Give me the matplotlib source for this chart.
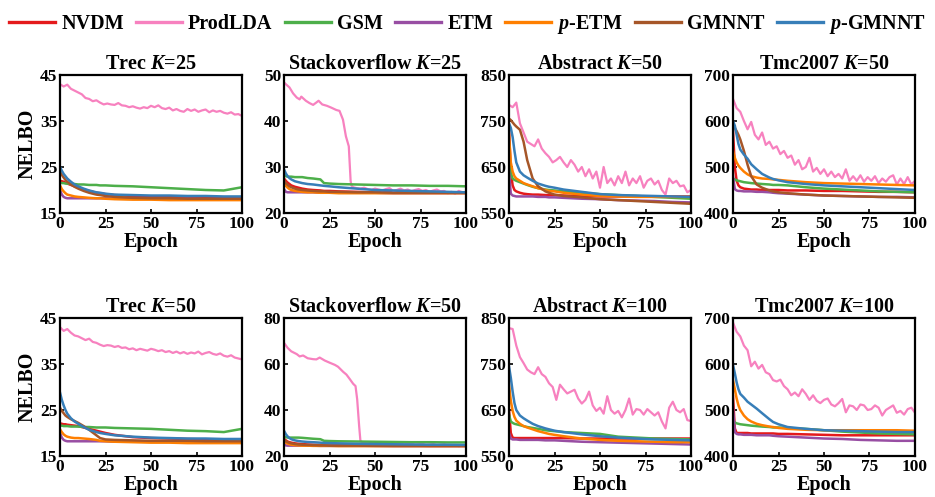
import matplotlib
matplotlib.use('Agg')
import matplotlib.pyplot as plt
from matplotlib.lines import Line2D
import numpy as np

# ---------------- data ----------------
MODELS = ['NVDM', 'ProdLDA', 'GSM', 'ETM', 'p-ETM', 'GMNNT', 'p-GMNNT']
LABELS = ['NVDM', 'ProdLDA', 'GSM', 'ETM', '$p$-ETM', 'GMNNT', '$p$-GMNNT']
COLORS = ['#e41a1c', '#f781bf', '#4daf4a', '#984ea3', '#ff7f00', '#a65628', '#377eb8']

TITLES = ['Trec', 'Stackoverflow', 'Abstract', 'Tmc2007',
          'Trec', 'Stackoverflow', 'Abstract', 'Tmc2007']
KS = [25, 25, 50, 50, 50, 50, 100, 100]
YTICKS = [[15, 25, 35, 45], [20, 30, 40, 50], [550, 650, 750, 850], [400, 500, 600, 700],
          [15, 25, 35, 45], [20, 40, 60, 80], [550, 650, 750, 850], [400, 500, 600, 700]]

# epochs at which the smooth curves are read
EPOCHS = [0, 1, 2, 3, 4, 6, 8, 10, 13, 16, 20, 22, 25, 30, 40, 50, 60, 70, 80, 90, 100]
PINK_EPOCHS = list(range(0, 101, 2))

TREC25 = {
    'NVDM':    [22.0, 21.9, 21.8, 21.6, 21.4, 21.1, 20.8, 20.5, 20.1, 19.8, 19.4, 19.3, 19.1, 18.9, 18.7, 18.6, 18.5, 18.4, 18.3, 18.3, 18.3],
    'GSM':     [21.6, 21.5, 21.5, 21.4, 21.4, 21.3, 21.3, 21.2, 21.2, 21.1, 21.1, 21.0, 21.0, 20.9, 20.8, 20.6, 20.4, 20.2, 20.0, 19.9, 20.6],
    'ETM':     [20.0, 19.0, 18.5, 18.3, 18.2, 18.2, 18.2, 18.2, 18.2, 18.2, 18.2, 18.2, 18.2, 18.1, 18.1, 18.1, 18.1, 18.1, 18.0, 18.0, 18.0],
    'p-ETM':   [21.0, 20.2, 19.7, 19.3, 19.0, 18.8, 18.6, 18.5, 18.4, 18.3, 18.2, 18.2, 18.1, 18.0, 17.9, 17.9, 17.8, 17.8, 17.8, 17.8, 17.8],
    'GMNNT':   [24.0, 23.3, 22.7, 22.2, 21.8, 21.2, 20.7, 20.3, 19.8, 19.4, 19.0, 18.9, 18.7, 18.5, 18.3, 18.2, 18.2, 18.1, 18.1, 18.1, 18.1],
    'p-GMNNT': [25.0, 24.2, 23.5, 23.0, 22.5, 21.8, 21.2, 20.8, 20.3, 19.9, 19.5, 19.4, 19.2, 19.0, 18.9, 18.8, 18.8, 18.7, 18.7, 18.6, 18.6],
}
SO25 = {
    'NVDM':    [27.5, 27.0, 26.6, 26.3, 26.0, 25.7, 25.5, 25.3, 25.1, 25.0, 24.9, 24.8, 24.8, 24.7, 24.6, 24.5, 24.5, 24.5, 24.4, 24.4, 24.4],
    'GSM':     [28.3, 28.0, 27.9, 27.9, 27.9, 27.8, 27.8, 27.8, 27.6, 27.5, 27.3, 26.5, 26.4, 26.3, 26.2, 26.1, 26.0, 26.0, 25.9, 25.9, 25.8],
    'ETM':     [25.2, 24.6, 24.5, 24.5, 24.5, 24.5, 24.5, 24.5, 24.5, 24.5, 24.4, 24.4, 24.4, 24.4, 24.4, 24.4, 24.3, 24.3, 24.3, 24.3, 24.3],
    'p-ETM':   [26.5, 25.9, 25.5, 25.2, 25.0, 24.8, 24.7, 24.6, 24.5, 24.5, 24.4, 24.4, 24.4, 24.3, 24.3, 24.3, 24.3, 24.3, 24.3, 24.3, 24.3],
    'GMNNT':   [27.0, 26.5, 26.1, 25.8, 25.6, 25.3, 25.1, 25.0, 24.9, 24.8, 24.7, 24.7, 24.6, 24.6, 24.5, 24.5, 24.4, 24.4, 24.4, 24.4, 24.4],
    'p-GMNNT': [29.5, 28.6, 28.0, 27.6, 27.3, 26.9, 26.7, 26.5, 26.3, 26.2, 26.0, 25.9, 25.8, 25.6, 25.3, 25.0, 24.9, 24.8, 24.7, 24.6, 24.5],
}
ABS50 = {
    'NVDM':    [730, 640, 610, 600, 597, 594, 592, 591, 590, 590, 589, 589, 589, 588, 587, 586, 586, 586, 586, 586, 586],
    'GSM':     [700, 635, 625, 622, 620, 617, 614, 611, 607, 604, 601, 600, 599, 597, 594, 591, 589, 587, 585, 583, 581],
    'ETM':     [640, 592, 588, 587, 586, 586, 586, 586, 586, 585, 585, 584, 584, 583, 581, 580, 578, 577, 576, 574, 573],
    'p-ETM':   [720, 660, 640, 630, 625, 620, 615, 612, 608, 604, 600, 598, 597, 594, 590, 587, 586, 585, 585, 585, 585],
    'GMNNT':   [755, 752, 747, 742, 738, 731, 705, 665, 625, 608, 597, 594, 590, 587, 584, 580, 578, 576, 574, 572, 570],
    'p-GMNNT': [745, 735, 715, 685, 660, 640, 632, 627, 620, 614, 609, 607, 605, 601, 596, 591, 589, 588, 587, 586, 585],
}
TMC50 = {
    'NVDM':    [580, 500, 470, 460, 456, 453, 452, 451, 451, 450, 450, 450, 450, 449, 449, 448, 448, 447, 446, 446, 445],
    'GSM':     [475, 473, 471, 470, 469, 467, 466, 465, 464, 463, 462, 461, 461, 460, 456, 453, 451, 449, 447, 446, 445],
    'ETM':     [480, 452, 449, 448, 448, 447, 447, 447, 446, 446, 445, 444, 443, 442, 440, 438, 437, 436, 435, 435, 434],
    'p-ETM':   [535, 520, 510, 503, 498, 490, 484, 480, 477, 475, 474, 473, 472, 470, 467, 465, 464, 463, 462, 461, 460],
    'GMNNT':   [590, 585, 578, 570, 560, 535, 505, 480, 462, 455, 449, 447, 445, 443, 440, 438, 437, 436, 435, 434, 433],
    'p-GMNNT': [600, 590, 570, 550, 538, 527, 518, 506, 495, 485, 477, 474, 471, 467, 463, 460, 458, 456, 454, 452, 450],
}
TREC50 = {
    'NVDM':    [22.1, 22.0, 21.9, 21.9, 21.8, 21.7, 21.6, 21.5, 21.2, 20.9, 20.5, 20.3, 20.0, 19.6, 19.1, 18.9, 18.8, 18.7, 18.6, 18.5, 18.5],
    'GSM':     [21.6, 21.6, 21.5, 21.5, 21.5, 21.4, 21.4, 21.4, 21.3, 21.3, 21.2, 21.2, 21.2, 21.1, 21.0, 20.9, 20.7, 20.5, 20.4, 20.2, 20.9],
    'ETM':     [20.0, 19.0, 18.5, 18.3, 18.2, 18.2, 18.2, 18.2, 18.2, 18.2, 18.2, 18.2, 18.2, 18.1, 18.1, 18.1, 18.1, 18.1, 18.0, 18.0, 18.0],
    'p-ETM':   [20.8, 20.2, 19.7, 19.4, 19.2, 19.0, 18.9, 18.9, 18.8, 18.7, 18.5, 18.3, 18.2, 18.1, 18.0, 17.9, 17.9, 17.8, 17.8, 17.8, 17.8],
    'GMNNT':   [25.5, 24.8, 24.3, 23.8, 23.5, 23.0, 22.6, 22.2, 21.5, 20.7, 19.5, 18.9, 18.6, 18.5, 18.4, 18.3, 18.3, 18.3, 18.2, 18.2, 18.2],
    'p-GMNNT': [28.8, 27.2, 26.0, 25.0, 24.2, 23.2, 22.5, 22.0, 21.3, 20.7, 20.2, 20.0, 19.8, 19.5, 19.2, 19.0, 18.9, 18.8, 18.8, 18.7, 18.7],
}
SO50 = {
    'NVDM':    [27.5, 26.8, 26.3, 26.0, 25.8, 25.5, 25.3, 25.2, 25.0, 24.9, 24.8, 24.8, 24.7, 24.7, 24.6, 24.5, 24.5, 24.5, 24.4, 24.4, 24.4],
    'GSM':     [28.5, 28.2, 28.0, 28.0, 28.0, 28.0, 28.0, 27.9, 27.7, 27.5, 27.3, 26.6, 26.5, 26.4, 26.3, 26.2, 26.1, 26.0, 26.0, 25.9, 25.9],
    'ETM':     [25.0, 24.6, 24.5, 24.5, 24.5, 24.5, 24.5, 24.5, 24.5, 24.5, 24.4, 24.4, 24.4, 24.4, 24.4, 24.4, 24.3, 24.3, 24.3, 24.3, 24.3],
    'p-ETM':   [26.5, 25.8, 25.4, 25.1, 24.9, 24.7, 24.6, 24.5, 24.5, 24.4, 24.4, 24.4, 24.4, 24.3, 24.3, 24.3, 24.3, 24.3, 24.3, 24.3, 24.3],
    'GMNNT':   [27.0, 26.4, 26.0, 25.7, 25.5, 25.2, 25.0, 24.9, 24.8, 24.7, 24.6, 24.6, 24.5, 24.5, 24.5, 24.4, 24.4, 24.4, 24.4, 24.4, 24.4],
    'p-GMNNT': [31.0, 29.5, 28.5, 27.8, 27.3, 26.8, 26.5, 26.3, 26.1, 26.0, 25.8, 25.7, 25.6, 25.5, 25.3, 25.2, 25.1, 25.0, 24.9, 24.9, 24.8],
}
ABS100 = {
    'NVDM':    [650, 600, 590, 589, 589, 589, 589, 589, 589, 589, 589, 589, 589, 589, 588, 588, 588, 588, 588, 588, 588],
    'GSM':     [640, 625, 622, 620, 619, 617, 615, 613, 611, 609, 606, 605, 604, 602, 600, 598, 592, 590, 588, 587, 586],
    'ETM':     [600, 588, 586, 586, 586, 585, 585, 585, 585, 585, 584, 584, 584, 583, 581, 580, 579, 578, 577, 576, 575],
    'p-ETM':   [705, 670, 648, 635, 627, 620, 615, 612, 608, 604, 600, 598, 596, 593, 588, 585, 583, 582, 581, 580, 580],
    'p-GMNNT': [745, 720, 690, 665, 650, 638, 632, 627, 620, 615, 610, 608, 605, 602, 597, 593, 590, 588, 586, 585, 584],
}
TMC100 = {
    'NVDM':    [530, 460, 450, 450, 450, 450, 450, 449, 449, 449, 449, 449, 448, 448, 447, 446, 445, 445, 445, 445, 445],
    'GSM':     [475, 473, 471, 470, 469, 468, 467, 466, 465, 464, 463, 462, 462, 461, 459, 456, 453, 451, 449, 448, 447],
    'ETM':     [505, 452, 448, 447, 447, 446, 446, 446, 445, 445, 445, 444, 443, 442, 440, 438, 437, 435, 434, 433, 433],
    'p-ETM':   [565, 545, 525, 510, 500, 488, 480, 475, 470, 467, 464, 463, 461, 459, 457, 456, 456, 456, 456, 456, 455],
    'p-GMNNT': [598, 580, 560, 545, 535, 527, 518, 512, 503, 493, 480, 474, 469, 463, 459, 456, 455, 454, 453, 452, 452],
}

# ProdLDA (noisy) curves
PINK_TREC25 = [43.0, 42.5, 42.9, 42.0, 41.6, 41.2, 40.8, 40.0, 39.8, 39.3, 39.5, 39.0, 38.6, 38.8, 38.6, 38.5, 38.9, 38.4, 38.3, 38.0,
               38.2, 37.9, 37.7, 38.0, 37.8, 38.3, 38.0, 38.4, 37.8, 37.6, 37.9, 37.3, 37.6, 37.2, 37.0, 37.6, 37.2, 37.5, 37.0, 37.3,
               37.5, 36.9, 37.3, 37.0, 37.2, 36.8, 36.6, 36.9, 36.4, 36.5, 36.1]
PINK_TREC50 = [43.0, 42.2, 42.6, 41.8, 41.2, 41.0, 40.6, 40.2, 40.5, 39.8, 39.6, 39.2, 38.9, 39.1, 39.0, 38.7, 38.9, 38.5, 38.6, 38.2,
               38.4, 38.0, 38.3, 38.1, 37.9, 38.3, 38.1, 37.8, 38.0, 37.6, 37.8, 37.4, 37.7, 37.3, 37.6, 37.2, 37.5, 37.3, 37.7, 37.1,
               37.4, 37.6, 37.2, 37.0, 37.3, 36.8, 36.6, 36.9, 36.4, 36.2, 36.0]
PINK_ABS50 = [785, 780, 790, 745, 725, 705, 700, 695, 710, 690, 680, 672, 660, 665, 672, 660, 650, 665, 655, 640,
              650, 630, 645, 625, 640, 605, 650, 615, 625, 610, 630, 615, 640, 610, 625, 615, 630, 605, 620, 625,
              612, 620, 600, 590, 625, 615, 620, 608, 610, 595, 600]
PINK_TMC50 = [648, 628, 620, 600, 582, 598, 570, 560, 575, 548, 555, 540, 545, 528, 535, 520, 525, 505, 515, 495,
              500, 520, 490, 498, 485, 495, 480, 490, 478, 485, 475, 495, 470, 480, 470, 482, 468, 478, 470, 480,
              465, 475, 468, 478, 482, 462, 475, 463, 478, 462, 470]
PINK_ABS100 = [828, 826, 790, 765, 752, 738, 732, 728, 743, 728, 722, 708, 700, 672, 705, 695, 686, 690, 694, 675,
               664, 672, 690, 660, 648, 655, 642, 680, 650, 642, 648, 634, 650, 675, 640, 652, 650, 640, 652, 645,
               638, 645, 625, 610, 655, 668, 650, 645, 652, 628, 626]
PINK_TMC100 = [690, 670, 660, 640, 630, 595, 605, 590, 598, 582, 578, 565, 562, 566, 552, 545, 532, 538, 530, 545,
               535, 522, 532, 520, 515, 522, 525, 512, 508, 515, 524, 495, 510, 508, 500, 512, 510, 500, 502, 510,
               505, 488, 500, 505, 510, 494, 498, 490, 502, 505, 494]
PINK_SO25_X = [0, 1, 3, 5, 7, 8.6, 9.5, 12, 14, 16, 17.7, 19, 21, 23.6, 26, 28.7, 30.5, 32.4, 34, 35.6, 36.6, 37, 38] + list(range(40, 101, 2))
PINK_SO25 = [48.4, 48.0, 47.3, 46.0, 45.1, 44.7, 45.3, 44.4, 43.9, 43.5, 44.0, 44.4, 43.6, 43.3, 42.9, 42.4, 42.2, 40.3, 36.7, 34.5, 27.0, 26.0, 25.6,
             25.4, 25.3, 25.5, 25.2, 25.0, 25.3, 25.1, 24.9, 25.2, 25.4, 24.8, 25.0, 25.3, 24.9, 25.1, 24.7, 25.0, 25.2, 24.8, 25.0,
             24.6, 24.9, 25.1, 24.7, 24.8, 24.3, 24.6, 24.2, 24.8, 24.5, 24.6]
PINK_SO50_X = [0, 2, 4, 7, 8.6, 10.5, 13, 16, 17.8, 19.6, 22.4, 25, 28, 29.7, 32.5, 34.3, 36, 38, 39.3, 40.2, 41.3, 42] + list(range(44, 101, 2))
PINK_SO50 = [69.2, 67.0, 65.5, 64.3, 63.3, 63.7, 62.5, 62.1, 62.0, 62.8, 61.5, 60.6, 59.6, 58.8, 56.6, 55.4, 53.6, 51.4, 50.4, 44.7, 32.9, 26.5,
             25.6, 25.4, 25.7, 25.3, 25.5, 25.2, 25.4, 25.6, 25.1, 25.3, 25.5, 25.0, 25.2, 25.4, 24.9, 25.1, 25.3, 24.8, 25.0, 25.2,
             24.7, 24.9, 25.1, 24.6, 24.4, 24.8, 24.3, 24.6, 24.5]

PANELS = [TREC25, SO25, ABS50, TMC50, TREC50, SO50, ABS100, TMC100]
PINKS = [(PINK_EPOCHS, PINK_TREC25), (PINK_SO25_X, PINK_SO25), (PINK_EPOCHS, PINK_ABS50), (PINK_EPOCHS, PINK_TMC50),
         (PINK_EPOCHS, PINK_TREC50), (PINK_SO50_X, PINK_SO50), (PINK_EPOCHS, PINK_ABS100), (PINK_EPOCHS, PINK_TMC100)]

# ---------------- style ----------------
plt.rcParams['font.family'] = ['Liberation Serif', 'DejaVu Serif']
plt.rcParams['font.weight'] = 'bold'
plt.rcParams['axes.labelweight'] = 'bold'
plt.rcParams['axes.titleweight'] = 'bold'
plt.rcParams['mathtext.fontset'] = 'custom'
plt.rcParams['mathtext.rm'] = 'Liberation Serif:bold'
plt.rcParams['mathtext.it'] = 'Liberation Serif:italic:bold'
plt.rcParams['mathtext.bf'] = 'Liberation Serif:bold'

W, H = 935, 497
fig = plt.figure(figsize=(W / 100, H / 100), dpi=100)

LEFTS = [60, 284, 509, 733]
AX_W = 182
ROW_BOTTOMS = [213, 456]
AX_H = 138

for i, data in enumerate(PANELS):
    r, c = divmod(i, 4)
    ax = fig.add_axes([LEFTS[c] / W, 1 - ROW_BOTTOMS[r] / H, AX_W / W, AX_H / H])
    for m, col in zip(MODELS, COLORS):
        if m == 'ProdLDA':
            px, py = PINKS[i]
            ax.plot(px, py, color=col, lw=1.6)
        elif m in data:
            ax.plot(EPOCHS, data[m], color=col, lw=1.8)
    yt = YTICKS[i]
    ax.set_ylim(yt[0], yt[-1])
    ax.set_yticks(yt)
    ax.set_xlim(0, 100)
    ax.set_xticks([0, 25, 50, 75, 100])
    ax.tick_params(direction='in', length=3, width=1.2, pad=2, labelsize=12.5)
    for s in ax.spines.values():
        s.set_linewidth(1.6)
    ax.set_title(f'{TITLES[i]} $K$={KS[i]}', fontsize=14.5, pad=4)
    ax.set_xlabel('Epoch', fontsize=14.5, labelpad=0)
    if c == 0:
        ax.set_ylabel('NELBO', fontsize=14.5, labelpad=2)

handles = [Line2D([0], [0], color=col, lw=2.4) for col in COLORS]
fig.legend(handles, LABELS, loc='upper center', bbox_to_anchor=(0.5, 1.01), ncol=7, frameon=False,
           fontsize=14.5, handlelength=2.3, handletextpad=0.3, columnspacing=0.6)

fig.savefig('out.png', dpi=100)
